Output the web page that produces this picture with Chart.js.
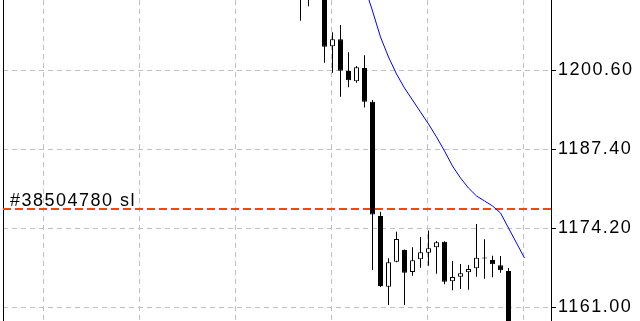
<!DOCTYPE html>
<html>
<head>
<meta charset="utf-8">
<script src="https://cdn.jsdelivr.net/npm/chart.js@4"></script>
<style>
  html, body { margin: 0; padding: 0; background: #fff; }
  #wrap { width: 640px; height: 321px; }
</style>
</head>
<body>
<div id="wrap"><canvas id="chart" width="640" height="321"></canvas></div>
<script>
// bar slots (one per candle)
const barIndex = [37, 38, 39, 40, 41, 42, 43, 44, 45, 46, 47, 48, 49, 50, 51, 52, 53, 54, 55, 56, 57, 58, 59, 60, 61, 62, 63, 64, 65];
const opens  = [1215.5, 1214.0, 1216.0, 1214.5, 1204.56, 1205.73, 1200.43, 1198.71, 1200.93, 1195.30, 1176.21, 1164.39, 1168.57, 1170.53, 1166.85, 1168.97, 1170.07, 1170.98, 1171.91, 1165.30, 1166.06, 1166.80, 1167.47, 1169.10, 1168.85, 1167.97, 1167.02, 1155.5, 1152.0];
const highs  = [1217.0, 1218.0, 1219.0, 1215.5, 1206.90, 1208.12, 1203.56, 1201.27, 1203.06, 1195.59, 1176.92, 1169.14, 1173.58, 1170.61, 1171.00, 1172.70, 1173.78, 1172.03, 1171.99, 1168.69, 1168.19, 1168.02, 1174.87, 1172.33, 1169.57, 1169.52, 1167.52, 1157.5, 1157.0];
const lows   = [1208.84, 1211.24, 1212.8, 1201.82, 1200.15, 1196.14, 1197.71, 1198.48, 1194.33, 1167.18, 1164.34, 1161.34, 1168.47, 1161.34, 1166.23, 1167.57, 1167.90, 1166.57, 1164.79, 1163.79, 1164.01, 1163.89, 1166.06, 1165.73, 1165.96, 1166.73, 1153.0, 1150.0, 1149.0];
const closes = [1213.2, 1216.0, 1214.0, 1204.49, 1205.73, 1200.48, 1198.88, 1201.05, 1195.30, 1176.46, 1164.51, 1168.47, 1172.36, 1166.73, 1168.80, 1170.14, 1170.81, 1171.81, 1165.23, 1166.01, 1166.63, 1167.35, 1169.24, 1169.27, 1168.14, 1167.13, 1155.0, 1152.0, 1154.0];
// moving average (blue)
const maValues = [null, null, null, null, null, null, null, null, 1214.63, 1210.46, 1206.11, 1202.77, 1199.93, 1197.59, 1195.59, 1193.58, 1191.58, 1189.41, 1187.07, 1184.56, 1182.56, 1180.88, 1179.55, 1178.72, 1177.88, 1176.71, 1174.20, 1171.69, 1169.19];

const priceTicks = [1161.00, 1174.20, 1187.40, 1200.60];
const timeGrid = [4.875, 16.875, 28.875, 40.875, 52.875, 64.875];
const stopLevel = 1177.38;
const stopLabel = '#38504780 sl';

const xMin = -0.1875, xMax = 68.3125;
const yMin = 1158.662, yMax = 1212.296;

Chart.defaults.font.family = '"Liberation Sans", Arial, sans-serif';
Chart.defaults.font.size = 18;
Chart.defaults.color = '#000';

const wickData = barIndex.map((x, i) => ({ x: x, y: [lows[i], highs[i]] }));
const bodyData = barIndex.map((x, i) => ({ x: x, y: [opens[i], closes[i]] }));
const bodyColors = barIndex.map((x, i) => closes[i] >= opens[i] ? '#ffffff' : '#000000');
const maData = barIndex.map((x, i) => ({ x: x, y: maValues[i] }));

// left frame line + order label over the stop line
const framePlugin = {
    id: 'frame',
    beforeDraw(chart) {
        // terminal-style wide text
        chart.ctx.letterSpacing = '1.5px';
    },
    beforeDatasetsDraw(chart) {
        const ctx = chart.ctx;
        const a = chart.chartArea;
        ctx.save();
        ctx.strokeStyle = '#000';
        ctx.lineWidth = 1;
        ctx.beginPath();
        ctx.moveTo(a.left + 0.5, a.top);
        ctx.lineTo(a.left + 0.5, a.bottom);
        ctx.stroke();
        ctx.restore();
    },
    afterDatasetsDraw(chart) {
        const ctx = chart.ctx;
        const y = chart.scales.y.getPixelForValue(stopLevel);
        ctx.save();
        ctx.fillStyle = '#000';
        ctx.font = '18px "Liberation Sans", Arial, sans-serif';
        ctx.letterSpacing = '1.5px';
        ctx.textBaseline = 'alphabetic';
        ctx.textAlign = 'left';
        ctx.fillText(stopLabel, chart.chartArea.left + 7, y - 3);
        ctx.restore();
    }
};

new Chart(document.getElementById('chart'), {
    type: 'bar',
    data: {
        datasets: [
            {
                type: 'line',
                data: [{ x: xMin, y: stopLevel }, { x: xMax, y: stopLevel }],
                borderColor: '#ff4500',
                borderWidth: 2,
                borderDash: [8, 4],
                pointRadius: 0,
                order: 3
            },
            {
                type: 'line',
                data: maData,
                borderColor: '#0000ff',
                borderWidth: 1,
                pointRadius: 0,
                tension: 0,
                order: 2
            },
            {
                data: wickData,
                backgroundColor: '#000',
                borderWidth: 0,
                barThickness: 1,
                inflateAmount: 0,
                grouped: false,
                order: 1
            },
            {
                data: bodyData,
                backgroundColor: bodyColors,
                borderColor: '#000',
                borderWidth: 1,
                borderSkipped: false,
                barThickness: 5,
                inflateAmount: 0,
                grouped: false,
                order: 0
            }
        ]
    },
    options: {
        responsive: false,
        animation: false,
        events: [],
        layout: { padding: { left: 3, right: 0, top: 0, bottom: 0 } },
        plugins: { legend: { display: false }, tooltip: { enabled: false } },
        scales: {
            x: {
                type: 'linear',
                min: xMin,
                max: xMax,
                offset: false,
                afterBuildTicks: (s) => { s.ticks = timeGrid.map(v => ({ value: v })); },
                afterFit: (s) => { s.height = 0; s.paddingLeft = 0; s.paddingRight = 0; },
                ticks: { display: false },
                grid: { color: '#c0c0c0', drawTicks: false, offset: false },
                border: { display: false, dash: [5, 4] }
            },
            y: {
                position: 'right',
                min: yMin,
                max: yMax,
                afterBuildTicks: (s) => { s.ticks = priceTicks.map(v => ({ value: v })); },
                afterFit: (s) => { s.width = 89; s.paddingTop = 0; s.paddingBottom = 0; },
                ticks: {
                    padding: 2,
                    color: '#000',
                    callback: (v) => Number(v).toFixed(2)
                },
                grid: { color: '#c0c0c0', tickColor: '#000', tickLength: 5, drawTicks: true },
                border: { display: true, color: '#000', width: 1, dash: [5, 4] }
            }
        }
    },
    plugins: [framePlugin]
});
</script>
</body>
</html>
